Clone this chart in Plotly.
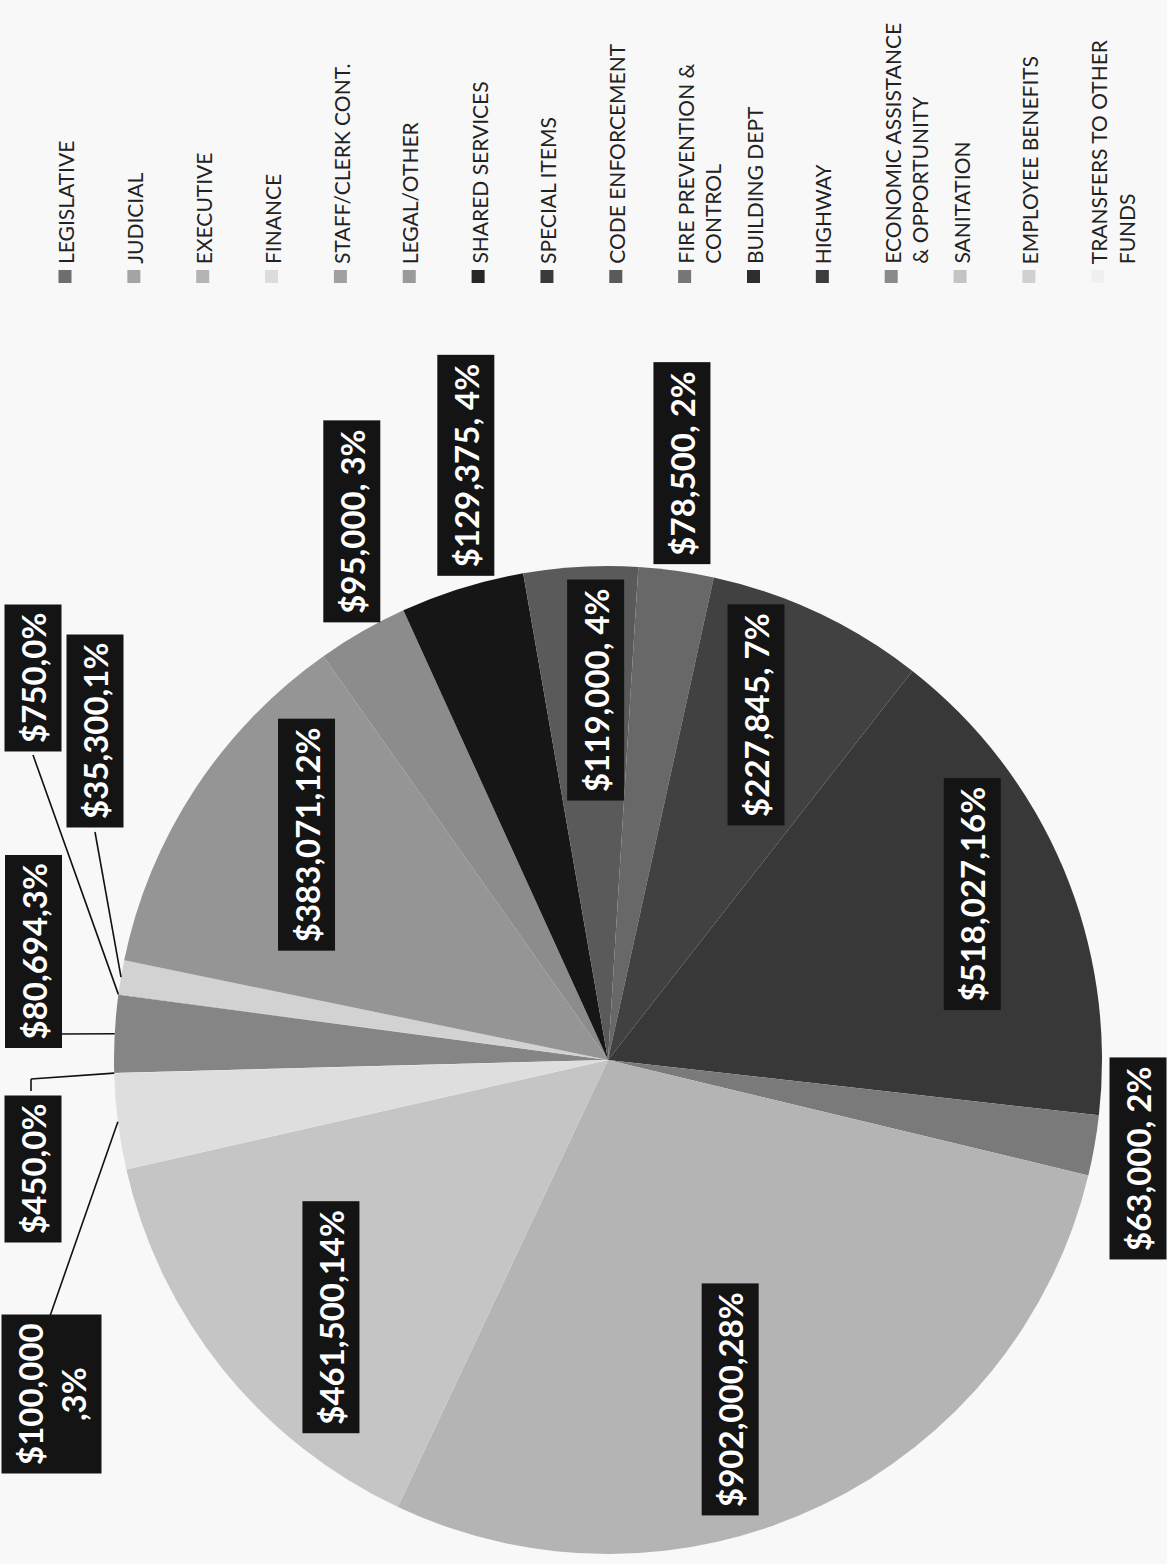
import math
import plotly.graph_objects as go

# ---------------- data ----------------
categories = [
    "LEGISLATIVE", "JUDICIAL", "EXECUTIVE", "FINANCE", "STAFF/CLERK CONT.",
    "LEGAL/OTHER", "SHARED SERVICES", "SPECIAL ITEMS", "CODE ENFORCEMENT",
    "FIRE PREVENTION & CONTROL", "BUILDING DEPT", "HIGHWAY",
    "ECONOMIC ASSISTANCE & OPPORTUNITY", "SANITATION", "EMPLOYEE BENEFITS",
    "TRANSFERS TO OTHER FUNDS",
]
legend_lines = [
    "LEGISLATIVE", "JUDICIAL", "EXECUTIVE", "FINANCE", "STAFF/CLERK CONT.",
    "LEGAL/OTHER", "SHARED SERVICES", "SPECIAL ITEMS", "CODE ENFORCEMENT",
    "FIRE PREVENTION &amp;<br>CONTROL", "BUILDING DEPT", "HIGHWAY",
    "ECONOMIC ASSISTANCE<br>&amp; OPPORTUNITY", "SANITATION", "EMPLOYEE BENEFITS",
    "TRANSFERS TO OTHER<br>FUNDS",
]
values = [80694, 750, 35300, 0, 383071, 95000, 129375, 119000, 78500,
          227845, 518027, 63000, 902000, 461500, 100000, 450]

# ---------------- style / layout ----------------
colors = ["#858585", "#b0b0b0", "#d2d2d2", "#e8e8e8", "#959595", "#8c8c8c",
          "#161616", "#5a5a5a", "#686868", "#414141", "#383838", "#7a7a7a",
          "#b4b4b4", "#c5c5c5", "#dedede", "#efefef"]
legend_marker_colors = ["#6e6e6e", "#a4a4a4", "#b4b4b4", "#dcdcdc", "#a0a0a0",
                        "#9a9a9a", "#262626", "#3a3a3a", "#5a5a5a", "#777777",
                        "#2e2e2e", "#3c3c3c", "#8a8a8a", "#c4c4c4", "#d0d0d0",
                        "#f0f0f0"]

W, H = 1167, 1564
CX, CY, R = 608, 1060, 494      # pie centre / radius in page pixels
START = 268.5                   # first slice starts near 9 o'clock (page rotated)
BG = "#f8f8f8"
FONT = "Lato"

# label placement: polar offset from slice mid-angle (deg shift, radius factor)
label_polar = {
    "STAFF/CLERK CONT.": (3.5, 0.762),
    "SANITATION": (-4.0, 0.765),
    "SPECIAL ITEMS": (1.3, 0.749),
    "FIRE PREVENTION & CONTROL": (-2.0, 0.76),
    "BUILDING DEPT": (-1.8, 0.81),
    "ECONOMIC ASSISTANCE & OPPORTUNITY": (5.9, 0.731),
    "LEGAL/OTHER": (4.4, 1.208),
    "SHARED SERVICES": (3.7, 1.237),
    "CODE ENFORCEMENT": (-0.9, 1.218),
    "HIGHWAY": (0.5, 1.091),
}
# leader-line labels: box centre (px) and leader path start points (px)
label_leader = {
    "JUDICIAL": ((32.5, 678.5), [(33, 755)]),
    "EXECUTIVE": ((95, 731), [(95, 832)]),
    "LEGISLATIVE": ((33.5, 952), [(60, 1034)]),
    "TRANSFERS TO OTHER FUNDS": ((32.5, 1169.5), [(31, 1091), (31, 1079)]),
    "EMPLOYEE BENEFITS": ((51, 1394), [(50, 1316)]),
}
tight_sep = {"LEGISLATIVE", "JUDICIAL", "EXECUTIVE", "TRANSFERS TO OTHER FUNDS",
             "STAFF/CLERK CONT.", "SANITATION", "BUILDING DEPT",
             "ECONOMIC ASSISTANCE & OPPORTUNITY"}


def px(x):
    return x / W


def py(y):
    return 1 - y / H


def polar(theta_deg, d):
    t = math.radians(theta_deg)
    return CX + d * math.sin(t), CY - d * math.cos(t)


total = sum(values)

fig = go.Figure(go.Pie(
    labels=categories,
    values=values,
    sort=False,
    direction="clockwise",
    rotation=START,
    marker=dict(colors=colors, line=dict(width=0)),
    textinfo="none",
    hoverinfo="label+value+percent",
    showlegend=False,
    domain=dict(x=[px(CX - R), px(CX + R)], y=[py(CY + R), py(CY - R)]),
))

annotations = []
shapes = []

# ---- data labels ----
cum = 0.0
for cat, v in zip(categories, values):
    mid = START + 360.0 * (cum + v / 2.0) / total
    cum += v
    if v == 0:
        continue
    pct = round(100.0 * v / total)
    sep = "," if cat in tight_sep else ", "
    if cat == "EMPLOYEE BENEFITS":
        txt = f"${v:,}<br>,{pct}%"
    else:
        txt = f"${v:,}{sep}{pct}%"
    if cat in label_polar:
        dth, k = label_polar[cat]
        lx, ly = polar(mid + dth, k * R)
    else:
        (lx, ly), starts = label_leader[cat]
        ex, ey = polar(mid, R)
        pts = starts + [(ex, ey)]
        for (x0, y0), (x1, y1) in zip(pts[:-1], pts[1:]):
            shapes.append(dict(type="line", xref="paper", yref="paper",
                               x0=px(x0), y0=py(y0), x1=px(x1), y1=py(y1),
                               line=dict(color="#111111", width=1.6)))
    annotations.append(dict(
        x=px(lx), y=py(ly), xref="paper", yref="paper",
        text=txt, showarrow=False, textangle=-90,
        xanchor="center", yanchor="middle", align="center",
        font=dict(family=FONT, size=33, color="white", weight="bold"),
        bgcolor="#141414", borderpad=8,
    ))

# ---- legend (rotated, across the top) ----
SLOT0, SLOT = 65, 68.85
for i, (txt, col) in enumerate(zip(legend_lines, legend_marker_colors)):
    sx = SLOT0 + SLOT * i
    shapes.append(dict(type="rect", xref="paper", yref="paper",
                       x0=px(sx - 6.5), x1=px(sx + 6.5), y0=py(283), y1=py(270),
                       fillcolor=col, line=dict(width=0)))
    annotations.append(dict(
        x=px(sx - 13), y=py(265), xref="paper", yref="paper",
        text=txt, showarrow=False, textangle=-90,
        xanchor="left", yanchor="bottom", align="left",
        font=dict(family=FONT, size=21, color="#222222"),
        borderpad=0,
    ))

fig.update_layout(
    width=W, height=H, autosize=False,
    margin=dict(l=0, r=0, t=0, b=0),
    paper_bgcolor=BG, plot_bgcolor=BG,
    annotations=annotations, shapes=shapes,
    showlegend=False,
)

fig.write_html("out.html")
